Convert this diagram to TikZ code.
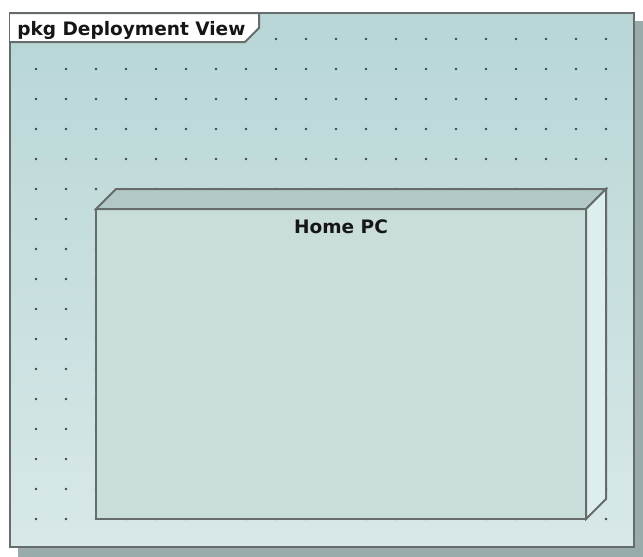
\documentclass[tikz,border=0pt]{standalone}
\usepackage{fontspec}
\setsansfont{DejaVu Sans}
\usetikzlibrary{positioning, calc}
\definecolor{edgegray}{HTML}{666B6B}
\definecolor{shadowgray}{HTML}{9AABAB}
\definecolor{frametop}{HTML}{B8D6D6}
\definecolor{framebottom}{HTML}{D8E8E8}
\definecolor{dotgray}{HTML}{3E4848}
\definecolor{frontface}{HTML}{C9DDDB}
\definecolor{topface}{HTML}{B3C9C7}
\definecolor{sideface}{HTML}{DCEEEE}
\definecolor{inkblack}{HTML}{161616}

\begin{document}
\begin{tikzpicture}[
    x=0.75pt, y=-0.75pt,
    font=\sffamily\bfseries\fontsize{13.9}{16}\selectfont,
    edge/.style={draw=edgegray, line width=1.5pt, line join=miter},
    griddot/.style={fill=dotgray},
    tabbox/.style={edge, fill=white},
    face/.style={edge, fill=frontface, outer sep=0pt, inner sep=0pt,
        minimum width=367.5pt, minimum height=232.5pt},
    topside/.style={edge, fill=topface},
    rightside/.style={edge, fill=sideface},
    title/.style={text=inkblack, inner sep=0pt}
]
\useasboundingbox (0,0) rectangle (643,557);

\coordinate (frameNW) at (10,13);
\coordinate (frameSE) at (634,547);

\fill[shadowgray] ($(frameNW)+(8,8)$) rectangle ($(frameSE)+(10,10)$);
\shade[top color=frametop, bottom color=framebottom] (frameNW) rectangle (frameSE);
\draw[edge] (frameNW) rectangle (frameSE);

\foreach \i in {0,...,19}
    \foreach \j in {0,...,16}
        \fill[griddot] (36+30*\i, 39+30*\j) circle (1.3);

\draw[tabbox] (frameNW) -- (259,13) -- (259,28) -- (245,42) -- (10,42);
\node[title, anchor=base west] (pkg) at (17,35) {pkg Deployment View};

\node[face, anchor=north west] (homepc) at (96,209) {};
\filldraw[topside] (homepc.north west) -- ++(20,-20) -- ($(homepc.north east)+(20,-20)$) -- (homepc.north east) -- cycle;
\filldraw[rightside] (homepc.north east) -- ++(20,-20) -- ($(homepc.south east)+(20,-20)$) -- (homepc.south east) -- cycle;
\node[title, anchor=base] (homepclabel) at ($(homepc.north)+(0,24)$) {Home PC};

\end{tikzpicture}
\end{document}
